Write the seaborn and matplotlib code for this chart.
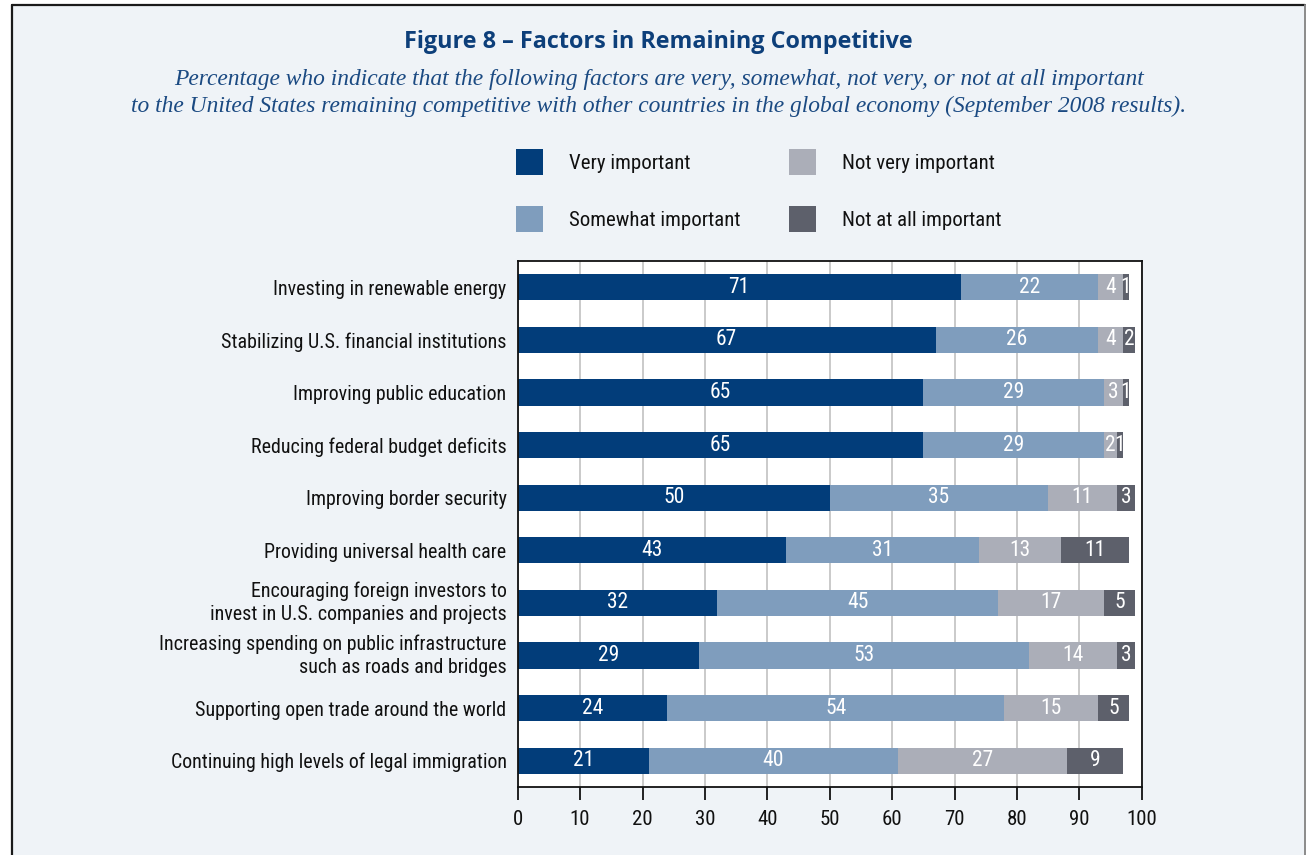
import matplotlib
matplotlib.use("Agg")
import matplotlib.pyplot as plt
from matplotlib import font_manager as fm
from matplotlib.patches import Patch, Rectangle
from matplotlib.lines import Line2D
import seaborn as sns
import pandas as pd

# Survey data (September 2008): share of respondents per importance level
factors = [
    "Investing in renewable energy",
    "Stabilizing U.S. financial institutions",
    "Improving public education",
    "Reducing federal budget deficits",
    "Improving border security",
    "Providing universal health care",
    "Encouraging foreign investors to\ninvest in U.S. companies and projects",
    "Increasing spending on public infrastructure\nsuch as roads and bridges",
    "Supporting open trade around the world",
    "Continuing high levels of legal immigration",
]
very_important = [71, 67, 65, 65, 50, 43, 32, 29, 24, 21]
somewhat_important = [22, 26, 29, 29, 35, 31, 45, 53, 54, 40]
not_very_important = [4, 4, 3, 2, 11, 13, 17, 14, 15, 27]
not_at_all_important = [1, 2, 1, 1, 3, 11, 5, 3, 5, 9]

levels = ["Very important", "Somewhat important", "Not very important", "Not at all important"]
level_colors = ["#023d7a", "#7f9dbd", "#abaeb8", "#5d606b"]
x_ticks = [0, 10, 20, 30, 40, 50, 60, 70, 80, 90, 100]

title = "Figure 8 \u2013 Factors in Remaining Competitive"
subtitle = ("Percentage who indicate that the following factors are very, somewhat, not very, or not at all important\n"
            "to the United States remaining competitive with other countries in the global economy (September 2008 results).")

sns.set_theme(style="white")

# Pick a narrow sans-serif for the body text
entries = fm.fontManager.ttflist
names = {f.name for f in entries}
narrow_family, narrow_stretch = "DejaVu Sans", "normal"
if "Liberation Sans Narrow" in names:
    narrow_family = "Liberation Sans Narrow"
elif "Roboto Condensed" in names:
    narrow_family = "Roboto Condensed"
elif any(f.name == "Roboto" and f.stretch == "condensed" for f in entries):
    narrow_family, narrow_stretch = "Roboto", "condensed"
elif any(f.name == "DejaVu Sans" and f.stretch == "condensed" for f in entries):
    narrow_family, narrow_stretch = "DejaVu Sans", "condensed"
elif "Roboto" in names:
    narrow_family = "Roboto"
plt.rcParams["font.family"] = [narrow_family, "DejaVu Sans"]
plt.rcParams["font.stretch"] = narrow_stretch

W, H = 1306, 855
fig = plt.figure(figsize=(W / 100, H / 100), dpi=100)
fig.patch.set_facecolor("white")

# Light panel behind the whole figure, with its frame
fig.patches.append(Rectangle((11 / W, 0), (1304 - 11) / W, 1 - 5 / H, transform=fig.transFigure,
                             facecolor="#eff3f7", edgecolor="none", zorder=-5))
fig.add_artist(Line2D([11.5 / W, 11.5 / W], [0, 1 - 5.5 / H], color="#1a1a1a", lw=1.6))
fig.add_artist(Line2D([11.5 / W, 1304.5 / W], [1 - 5.5 / H, 1 - 5.5 / H], color="#1a1a1a", lw=1.6))
fig.add_artist(Line2D([1304.5 / W, 1304.5 / W], [0, 1 - 5.5 / H], color="#8a8a8a", lw=1.4))

df = pd.DataFrame({"factor": factors})
series = [very_important, somewhat_important, not_very_important, not_at_all_important]
for lvl, vals in zip(levels, series):
    df[lvl] = vals
cum = df[levels].cumsum(axis=1)

ax = fig.add_axes([517.7 / W, 1 - 787 / H, 624 / W, (787 - 261) / H])
ax.set_facecolor("white")
ax.set_zorder(1)

# Stacked bars: draw cumulative totals from the outermost level inwards
for lvl, col in reversed(list(zip(levels, level_colors))):
    sns.barplot(x=cum[lvl], y=df["factor"], orient="h", color=col, saturation=1,
                width=0.5, ax=ax, zorder=2, linewidth=0)

# Value labels centred in each segment
for i in range(len(df)):
    for lvl in levels:
        v = df.loc[i, lvl]
        center = cum.loc[i, lvl] - v / 2
        ax.text(center, i, str(v), ha="center", va="center", color="white",
                fontsize=15.5, zorder=3)

ax.set_xlim(0, 100)
ax.set_ylim(len(df) - 0.5, -0.5)
ax.set_xticks(x_ticks)
ax.set_xlabel("")
ax.set_ylabel("")
ax.grid(axis="x", color="#c6c6c6", lw=1.3, zorder=0)
ax.grid(axis="y", visible=False)
ax.set_axisbelow(True)
for s in ax.spines.values():
    s.set_color("#111111")
    s.set_linewidth(1.3)
ax.tick_params(axis="x", bottom=True, length=9.5, width=1.3, color="#111111", pad=7,
               labelsize=15, labelcolor="#111111")
ax.tick_params(axis="y", left=False, length=0, pad=8, labelsize=14.4, labelcolor="#111111")
for lab in ax.get_yticklabels():
    lab.set_linespacing(1.28)
    if "\n" in lab.get_text():
        lab.set_verticalalignment("center")

# Legend in two columns
handles = [Patch(facecolor=c, edgecolor="none", label=l) for l, c in zip(levels, level_colors)]
leg_kw = dict(loc="upper left", frameon=False, fontsize=15, handlelength=1.3, handleheight=1.55,
              handletextpad=1.25, labelspacing=1.5, borderpad=0, borderaxespad=0,
              labelcolor="#111111")
fig.legend(handles=handles[:2], bbox_to_anchor=(516 / W, 1 - 149 / H), **leg_kw)
fig.legend(handles=handles[2:], bbox_to_anchor=(789 / W, 1 - 149 / H), **leg_kw)

fig.text(658.5 / W, 1 - 42 / H, title, ha="center", va="center", fontsize=16.8,
         fontweight="bold", family=["Open Sans", "DejaVu Sans"], fontstretch="normal",
         color="#0d3f7a")
fig.text(658.5 / W, 1 - 93 / H, subtitle, ha="center", va="center", fontsize=16.9,
         style="italic", family=["Liberation Serif", "DejaVu Serif"], fontstretch="normal",
         color="#1b4a82", linespacing=1.38)

fig.savefig("out.png", dpi=100, facecolor=fig.get_facecolor())
